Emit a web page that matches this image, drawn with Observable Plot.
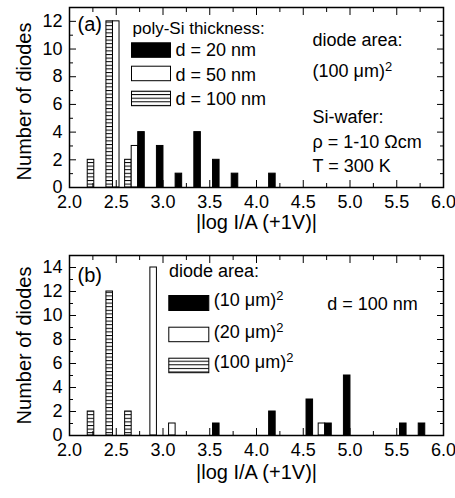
<!DOCTYPE html>
<html><head><meta charset="utf-8">
<script src="https://cdn.jsdelivr.net/npm/d3@7"></script>
<script src="https://cdn.jsdelivr.net/npm/@observablehq/plot@0.6"></script>
<style>body{margin:0;background:#fff} #c svg{display:block}</style>
</head><body><div id="c"></div>
<script>
// ---- tick labels ----
const xTicksMajor = [2.0, 2.5, 3.0, 3.5, 4.0, 4.5, 5.0, 5.5, 6.0];
const xTicksMinor = [2.25, 2.75, 3.25, 3.75, 4.25, 4.75, 5.25, 5.75];
const yTicksA = [0, 2, 4, 6, 8, 10, 12];
const yMinorA = [1, 3, 5, 7, 9, 11, 13];
const yTicksB = [0, 2, 4, 6, 8, 10, 12, 14];
const yMinorB = [1, 3, 5, 7, 9, 11, 13, 15];

// ---- texts ----
const xTitle = "|log I/A (+1V)|";
const yTitle = "Number of diodes";
const legendTitleA = "poly-Si thickness:";
const seriesA = ["d = 20 nm", "d = 50 nm", "d = 100 nm"];
const notesA = ["diode area:", "(100 μm)²", "Si-wafer:", "ρ = 1-10 Ωcm", "T = 300 K"];
const legendTitleB = "diode area:";
const seriesB = ["(10 μm)²", "(20 μm)²", "(100 μm)²"];
const noteB = "d = 100 nm";

// ---- panel (a) data: bin centre of |log I/A| and number of diodes ----
const a20bins = [2.7, 2.9, 3.1, 3.3, 3.5, 3.7, 4.1];
const a20counts = [4, 3, 1, 4, 2, 1, 1];
const a50bins = [2.5, 2.7];
const a50counts = [12, 3];
const a100bins = [2.3, 2.5, 2.7];
const a100counts = [2, 12, 2];

// ---- panel (b) data ----
const b10bins = [3.5, 4.1, 4.5, 4.7, 4.9, 5.5, 5.7];
const b10counts = [1, 2, 3, 1, 5, 1, 1];
const b20bins = [2.9, 3.1, 4.7];
const b20counts = [14, 1, 1];
const b100bins = [2.3, 2.5, 2.7];
const b100counts = [2, 12, 2];

const barW = 0.07;
const FONT = "'Liberation Sans', Arial, Helvetica, sans-serif";

function bars(bins, counts, slot, fill) {
  const data = bins.map((b, i) => ({bin: b, count: counts[i]}));
  const off = (slot - 1) * barW;
  return Plot.rect(data, {
    x1: d => d.bin + off - barW / 2,
    x2: d => d.bin + off + barW / 2,
    y1: 0, y2: "count",
    fill, stroke: "black", strokeWidth: 1
  });
}

function tickMarks(yMajor, yMinor) {
  const fmt = () => "";
  return [
    Plot.axisX(xTicksMajor, {anchor: "bottom", tickSize: 7, dy: -7, tickFormat: fmt, label: null}),
    Plot.axisX(xTicksMinor, {anchor: "bottom", tickSize: 4, dy: -4, tickFormat: fmt, label: null}),
    Plot.axisX(xTicksMajor, {anchor: "top", tickSize: 7, dy: 7, tickFormat: fmt, label: null}),
    Plot.axisX(xTicksMinor, {anchor: "top", tickSize: 4, dy: 4, tickFormat: fmt, label: null}),
    Plot.axisY(yMajor, {anchor: "left", tickSize: 7, dx: 7, tickFormat: fmt, label: null}),
    Plot.axisY(yMinor, {anchor: "left", tickSize: 4, dx: 4, tickFormat: fmt, label: null}),
    Plot.axisY(yMajor, {anchor: "right", tickSize: 7, dx: -7, tickFormat: fmt, label: null}),
    Plot.axisY(yMinor, {anchor: "right", tickSize: 4, dx: -4, tickFormat: fmt, label: null})
  ];
}

function txt(s, dx, dy, fontSize) {
  return Plot.text([s], {text: d => d, frameAnchor: "top-left", textAnchor: "start", lineAnchor: "top", dx, dy, fontSize});
}

function swatch(fill, left, top, w, h, fw, fh) {
  return Plot.frame({fill, stroke: "black", strokeWidth: 1,
    insetLeft: left, insetRight: fw - left - w, insetTop: top, insetBottom: fh - top - h});
}

function addHatch(svg, id) {
  const defs = d3.select(svg).insert("defs", ":first-child");
  const p = defs.append("pattern").attr("id", id).attr("patternUnits", "userSpaceOnUse")
    .attr("width", 8).attr("height", 3.6);
  p.append("rect").attr("width", 8).attr("height", 3.6).attr("fill", "white");
  p.append("line").attr("x1", 0).attr("x2", 8).attr("y1", 0.5).attr("y2", 0.5)
    .attr("stroke", "black").attr("stroke-width", 1);
}

function superscripts(svg) {
  d3.select(svg).selectAll("text").each(function () {
    const t = this.textContent;
    if (t.includes("²")) {
      this.textContent = t.replace("²", "");
      d3.select(this).append("tspan").attr("dy", "-0.5em").attr("font-size", "0.72em").text("2");
    }
  });
}

const FW = 374, FH = 180;

// ---------- panel (a) ----------
const hatchA = "url(#hatchA)";
const chartA = Plot.plot({
  width: 455, height: 245, marginLeft: 69, marginRight: 12, marginTop: 7, marginBottom: 58,
  x: {domain: [2, 6], axis: null},
  y: {domain: [0, 13], axis: null},
  style: {fontFamily: FONT, fontSize: "18px", color: "black", background: "white"},
  marks: [
    bars(a100bins, a100counts, 0, hatchA),
    bars(a50bins, a50counts, 1, "white"),
    bars(a20bins, a20counts, 2, "black"),
    ...tickMarks(yTicksA, yMinorA),
    Plot.axisX(xTicksMajor, {anchor: "bottom", tickSize: 0, tickPadding: 8, tickFormat: d => d.toFixed(1), fontSize: 18, label: null}),
    Plot.axisY(yTicksA, {anchor: "left", tickSize: 0, tickPadding: 7, fontSize: 18, label: null}),
    Plot.frame({stroke: "black", strokeWidth: 1.5}),
    Plot.text([xTitle], {text: d => d, frameAnchor: "bottom", textAnchor: "middle", lineAnchor: "middle", dy: 35, fontSize: 20}),
    Plot.text([yTitle], {text: d => d, frameAnchor: "left", textAnchor: "middle", rotate: -90, lineAnchor: "middle", dx: -45, dy: 4, fontSize: 20}),
    txt("(a)", 8, 9, 20),
    txt(legendTitleA, 63, 14, 17),
    swatch("black", 62, 35.3, 39, 14.5, FW, FH),
    swatch("white", 62, 58.7, 39, 14.5, FW, FH),
    swatch(hatchA, 62, 83.7, 39, 14.5, FW, FH),
    txt(seriesA[0], 106, 36.2, 18),
    txt(seriesA[1], 106, 60.9, 18),
    txt(seriesA[2], 106, 85.2, 18),
    txt(notesA[0], 243, 26.2, 18),
    txt(notesA[1], 243, 56.9, 18),
    txt(notesA[2], 243, 103.2, 18),
    txt(notesA[3], 243, 128.2, 18),
    txt(notesA[4], 243, 151.9, 18)
  ]
});
addHatch(chartA, "hatchA");
superscripts(chartA);

// ---------- panel (b) ----------
const hatchB = "url(#hatchB)";
const chartB = Plot.plot({
  width: 455, height: 253, marginLeft: 69, marginRight: 12, marginTop: 10, marginBottom: 63,
  x: {domain: [2, 6], axis: null},
  y: {domain: [0, 15], axis: null},
  style: {fontFamily: FONT, fontSize: "18px", color: "black", background: "white"},
  marks: [
    bars(b100bins, b100counts, 0, hatchB),
    bars(b20bins, b20counts, 1, "white"),
    bars(b10bins, b10counts, 2, "black"),
    ...tickMarks(yTicksB, yMinorB),
    Plot.axisX(xTicksMajor, {anchor: "bottom", tickSize: 0, tickPadding: 8, tickFormat: d => d.toFixed(1), fontSize: 18, label: null}),
    Plot.axisY(yTicksB, {anchor: "left", tickSize: 0, tickPadding: 7, fontSize: 18, label: null}),
    Plot.frame({stroke: "black", strokeWidth: 1.5}),
    Plot.text([xTitle], {text: d => d, frameAnchor: "bottom", textAnchor: "middle", lineAnchor: "middle", dy: 37, fontSize: 20}),
    Plot.text([yTitle], {text: d => d, frameAnchor: "left", textAnchor: "middle", rotate: -90, lineAnchor: "middle", dx: -45, dy: 0, fontSize: 20}),
    txt("(b)", 8, 12.5, 20),
    txt(legendTitleB, 99.5, 9, 18),
    swatch("black", 99.3, 40, 40, 15, FW, FH),
    swatch("white", 99.3, 71.7, 40, 14.5, FW, FH),
    swatch(hatchB, 99.3, 102.7, 40, 14.5, FW, FH),
    txt(seriesB[0], 144.3, 38.2, 18),
    txt(seriesB[1], 144.3, 70.2, 18),
    txt(seriesB[2], 144.3, 100.2, 18),
    txt(noteB, 257.7, 42.2, 18)
  ]
});
addHatch(chartB, "hatchB");
superscripts(chartB);

document.getElementById("c").append(chartA, chartB);
</script>
</body></html>
